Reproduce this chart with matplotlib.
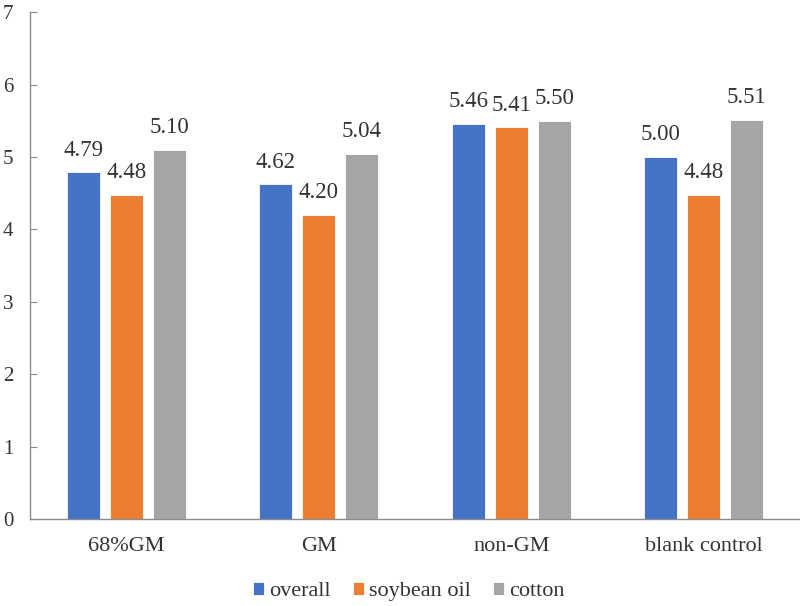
import matplotlib
matplotlib.use("Agg")
import matplotlib.pyplot as plt
import numpy as np

plt.rcParams['font.family'] = ['Liberation Serif', 'DejaVu Serif']

categories = ["68%GM", "GM", "non-GM", "blank control"]
series_names = ["overall", "soybean oil", "cotton"]
overall = [4.79, 4.62, 5.46, 5.00]
soybean_oil = [4.48, 4.20, 5.41, 4.48]
cotton = [5.10, 5.04, 5.50, 5.51]
colors = ["#4472C4", "#ED7D31", "#A5A5A5"]

fig = plt.figure(figsize=(8, 6.06), dpi=100)
ax = fig.add_axes([0.0375, 0.1436, 0.9625, 0.8364])

x = np.arange(len(categories))
width = 0.172
step = 0.224
for i, (vals, name, c) in enumerate(zip([overall, soybean_oil, cotton], series_names, colors)):
    pos = x + (i - 1) * step
    bars = ax.bar(pos, vals, width, color=c, label=name, edgecolor="white", linewidth=0.6)
    for p, v in zip(pos, vals):
        ax.text(p, v + 0.16, f"{v:.2f}", ha="center", va="bottom", fontsize=16.5, color="#333333")

ax.set_xlim(-0.5, 3.5)
ax.set_ylim(0, 7)
ax.set_yticks(range(0, 8))
ax.set_xticks(x)
ax.set_xticklabels(categories)
for s in ["top", "right"]:
    ax.spines[s].set_visible(False)
for s in ["left", "bottom"]:
    ax.spines[s].set_color("#8C8C8C")
    ax.spines[s].set_linewidth(1.0)
ax.tick_params(axis="y", direction="in", length=5, color="#8C8C8C", labelsize=15, labelcolor="#333333", pad=12)
ax.tick_params(axis="x", length=0, labelsize=16, labelcolor="#333333", pad=13)

leg = ax.legend(loc="upper center", bbox_to_anchor=(0.492, -0.085), ncol=3, frameon=False,
                fontsize=16, handlelength=0.5, handleheight=0.5, handletextpad=0.22, columnspacing=1.0)
for t in leg.get_texts():
    t.set_color("#333333")

fig.savefig("out.png", dpi=100)
